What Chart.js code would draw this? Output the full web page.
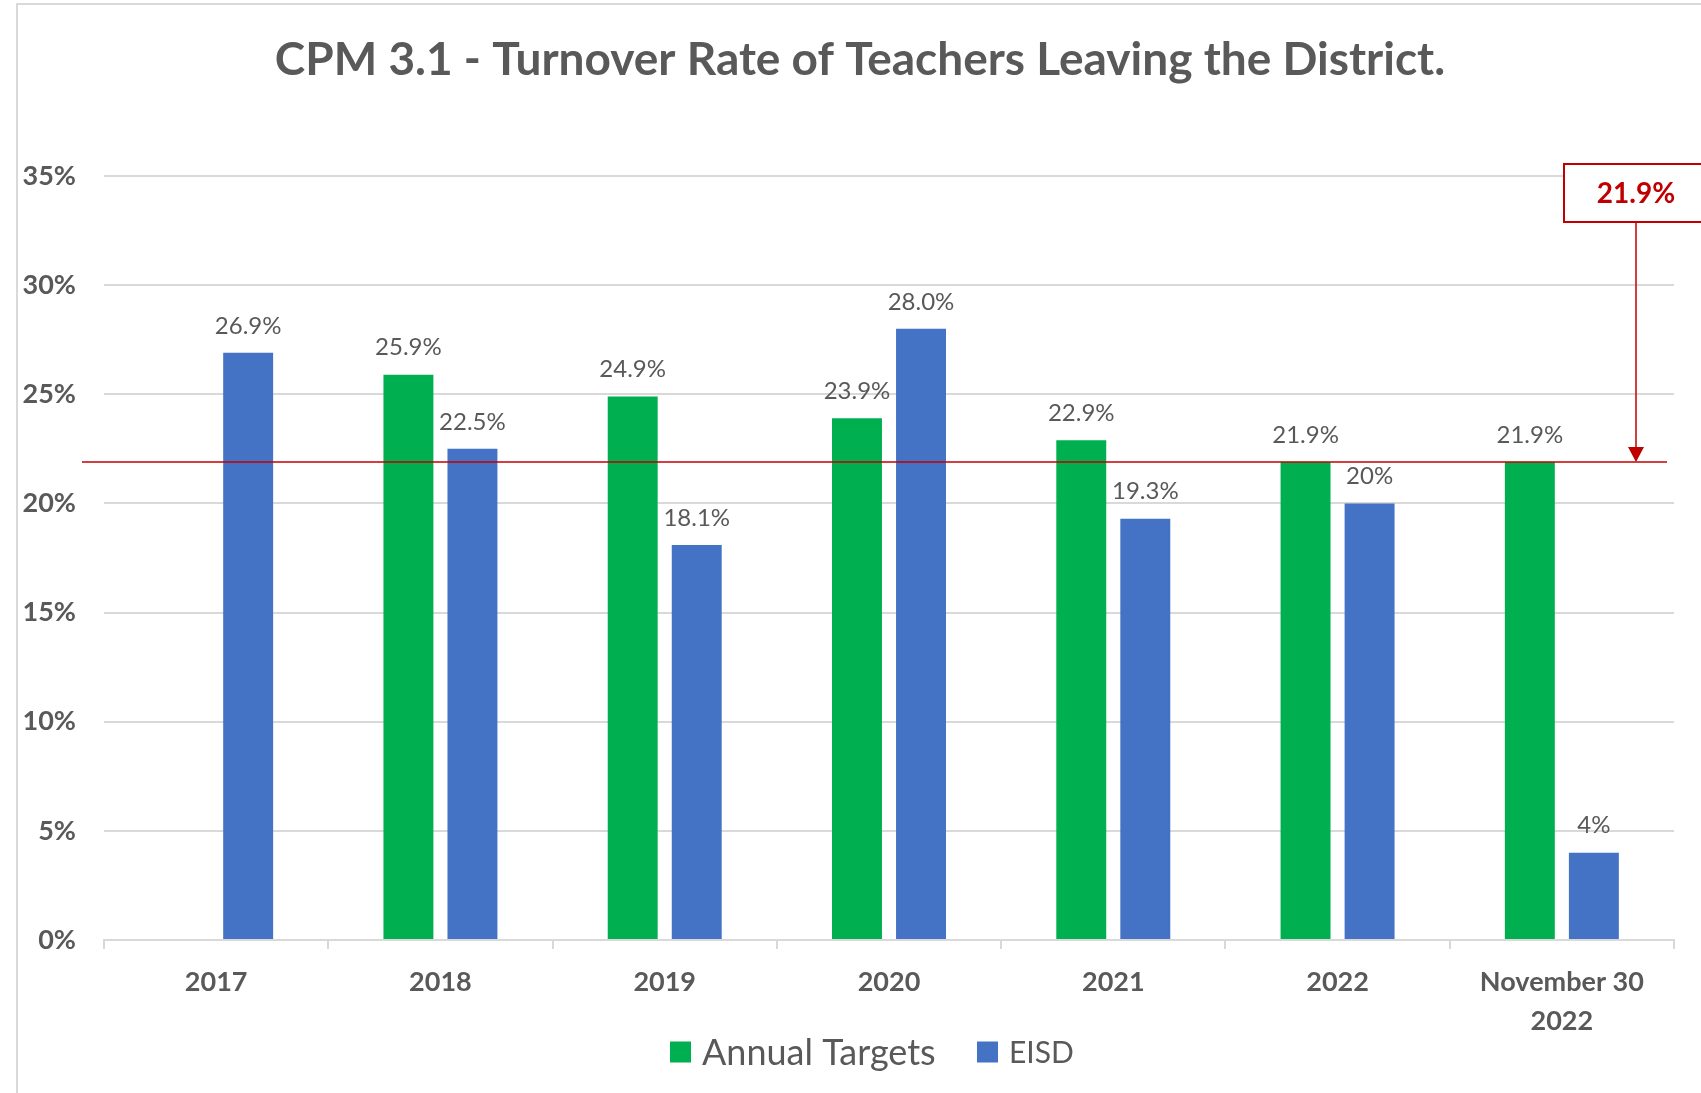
<!DOCTYPE html>
<html>
<head>
<meta charset="utf-8">
<title>CPM 3.1</title>
<script src="https://cdn.jsdelivr.net/npm/chart.js@4.4.0/dist/chart.umd.min.js"></script>
<style>
    html, body { margin: 0; padding: 0; background: #fff; overflow: hidden; }
    #wrap { width: 1701px; height: 1093px; }
</style>
</head>
<body>
<div id="wrap"><canvas id="canvas" width="1701" height="1093"></canvas></div>
<script>
// data
const chartTitle = 'CPM 3.1 - Turnover Rate of Teachers Leaving the District.';
const years = ['2017', '2018', '2019', '2020', '2021', '2022', ['November 30', '2022']];
const targets = [null, 25.9, 24.9, 23.9, 22.9, 21.9, 21.9];
const eisd = [26.9, 22.5, 18.1, 28.0, 19.3, 20, 4];
const targetLabels = ['', '25.9%', '24.9%', '23.9%', '22.9%', '21.9%', '21.9%'];
const eisdLabels = ['26.9%', '22.5%', '18.1%', '28.0%', '19.3%', '20%', '4%'];
const goal = 21.9;
const goalLabel = '21.9%';
const yMax = 35;
const yStep = 5;

const grey = '#595959';
const lineGrey = '#d9d9d9';
const red = '#c00000';
const fontName = 'Lato, "Noto Sans", sans-serif';

const framePlugin = {
    id: 'frame',
    beforeDraw(chart) {
        const ctx = chart.ctx;
        ctx.save();
        ctx.fillStyle = '#fff';
        ctx.fillRect(0, 0, chart.width, chart.height);
        ctx.strokeStyle = lineGrey;
        ctx.lineWidth = 2;
        ctx.beginPath();
        ctx.moveTo(17, chart.height + 5);
        ctx.lineTo(17, 4);
        ctx.lineTo(chart.width + 5, 4);
        ctx.stroke();
        // title
        ctx.fillStyle = grey;
        ctx.font = 'bold 46px ' + fontName;
        ctx.textAlign = 'center';
        ctx.textBaseline = 'middle';
        ctx.fillText(chartTitle, 860, 60);
        ctx.restore();
    },
};

const valueLabelPlugin = {
    id: 'valueLabels',
    afterDatasetsDraw(chart) {
        const ctx = chart.ctx;
        ctx.save();
        ctx.font = '24px ' + fontName;
        ctx.fillStyle = grey;
        ctx.textAlign = 'center';
        ctx.textBaseline = 'middle';
        chart.data.datasets.forEach((ds, i) => {
            const meta = chart.getDatasetMeta(i);
            meta.data.forEach((bar, j) => {
                const txt = ds.valueLabels[j];
                if (!txt || ds.data[j] == null) return;
                ctx.fillText(txt, bar.x, bar.y - 27);
            });
        });
        ctx.restore();
    },
};

const goalPlugin = {
    id: 'goal',
    afterDatasetsDraw(chart) {
        const ctx = chart.ctx;
        const area = chart.chartArea;
        const y = chart.scales.y.getPixelForValue(goal);
        const ax = area.right - 38;
        const boxTop = chart.scales.y.getPixelForValue(yMax) - 12;
        const boxBottom = boxTop + 58;
        ctx.save();
        ctx.strokeStyle = red;
        ctx.fillStyle = red;
        ctx.lineWidth = 1.5;
        ctx.beginPath();
        ctx.moveTo(area.left - 22, y);
        ctx.lineTo(area.right - 7, y);
        ctx.stroke();
        // arrow
        ctx.beginPath();
        ctx.moveTo(ax, boxBottom);
        ctx.lineTo(ax, y - 14);
        ctx.stroke();
        ctx.beginPath();
        ctx.moveTo(ax - 8, y - 15);
        ctx.lineTo(ax + 8, y - 15);
        ctx.lineTo(ax, y);
        ctx.closePath();
        ctx.fill();
        // box
        ctx.lineWidth = 2;
        ctx.fillStyle = '#fff';
        ctx.fillRect(ax - 72, boxTop, 200, boxBottom - boxTop);
        ctx.strokeRect(ax - 72, boxTop, 200, boxBottom - boxTop);
        ctx.fillStyle = red;
        ctx.font = 'bold 28px ' + fontName;
        ctx.textAlign = 'center';
        ctx.textBaseline = 'middle';
        ctx.fillText(goalLabel, ax, boxTop + 30);
        ctx.restore();
    },
};

const legendPlugin = {
    id: 'customLegend',
    afterDraw(chart) {
        const ctx = chart.ctx;
        const sizes = [36, 30];
        const starts = [670, 977];
        const cy = 1052;
        ctx.save();
        ctx.textBaseline = 'middle';
        ctx.textAlign = 'left';
        chart.data.datasets.forEach((ds, i) => {
            ctx.fillStyle = ds.backgroundColor;
            ctx.fillRect(starts[i], cy - 10.5, 21, 21);
            ctx.fillStyle = grey;
            ctx.font = sizes[i] + 'px ' + fontName;
            ctx.fillText(ds.label, starts[i] + 32, cy + 1);
        });
        ctx.restore();
    },
};

new Chart('canvas', {
    type: 'bar',
    data: {
        labels: years,
        datasets: [
            {
                label: 'Annual Targets',
                data: targets,
                valueLabels: targetLabels,
                backgroundColor: '#00b050',
                categoryPercentage: 0.571,
                barPercentage: 0.78,
            },
            {
                label: 'EISD',
                data: eisd,
                valueLabels: eisdLabels,
                backgroundColor: '#4472c4',
                categoryPercentage: 0.571,
                barPercentage: 0.78,
            },
        ],
    },
    options: {
        responsive: false,
        animation: false,
        devicePixelRatio: 1,
        layout: { padding: { left: 0, right: 27, top: 176, bottom: 0 } },
        plugins: {
            legend: { display: false },
            tooltip: { enabled: false },
            title: { display: false },
        },
        scales: {
            x: {
                grid: {
                    display: true,
                    drawOnChartArea: false,
                    drawTicks: true,
                    tickLength: 9,
                    color: lineGrey,
                    lineWidth: 2,
                },
                border: { display: true, color: lineGrey, width: 2 },
                ticks: {
                    color: grey,
                    padding: 14,
                    maxRotation: 0,
                    font: { family: fontName, size: 27, weight: 'bold', lineHeight: 1.45 },
                },
                afterFit(scale) {
                    scale.height = 153;
                },
            },
            y: {
                min: 0,
                max: yMax,
                grid: { color: lineGrey, lineWidth: 2, drawTicks: false },
                border: { display: false },
                ticks: {
                    stepSize: yStep,
                    color: grey,
                    padding: 28,
                    font: { family: fontName, size: 27, weight: 'bold' },
                    callback: (v) => v + '%',
                },
                afterFit(scale) {
                    scale.width = 104;
                },
            },
        },
    },
    plugins: [framePlugin, valueLabelPlugin, goalPlugin, legendPlugin],
});
</script>
</body>
</html>
